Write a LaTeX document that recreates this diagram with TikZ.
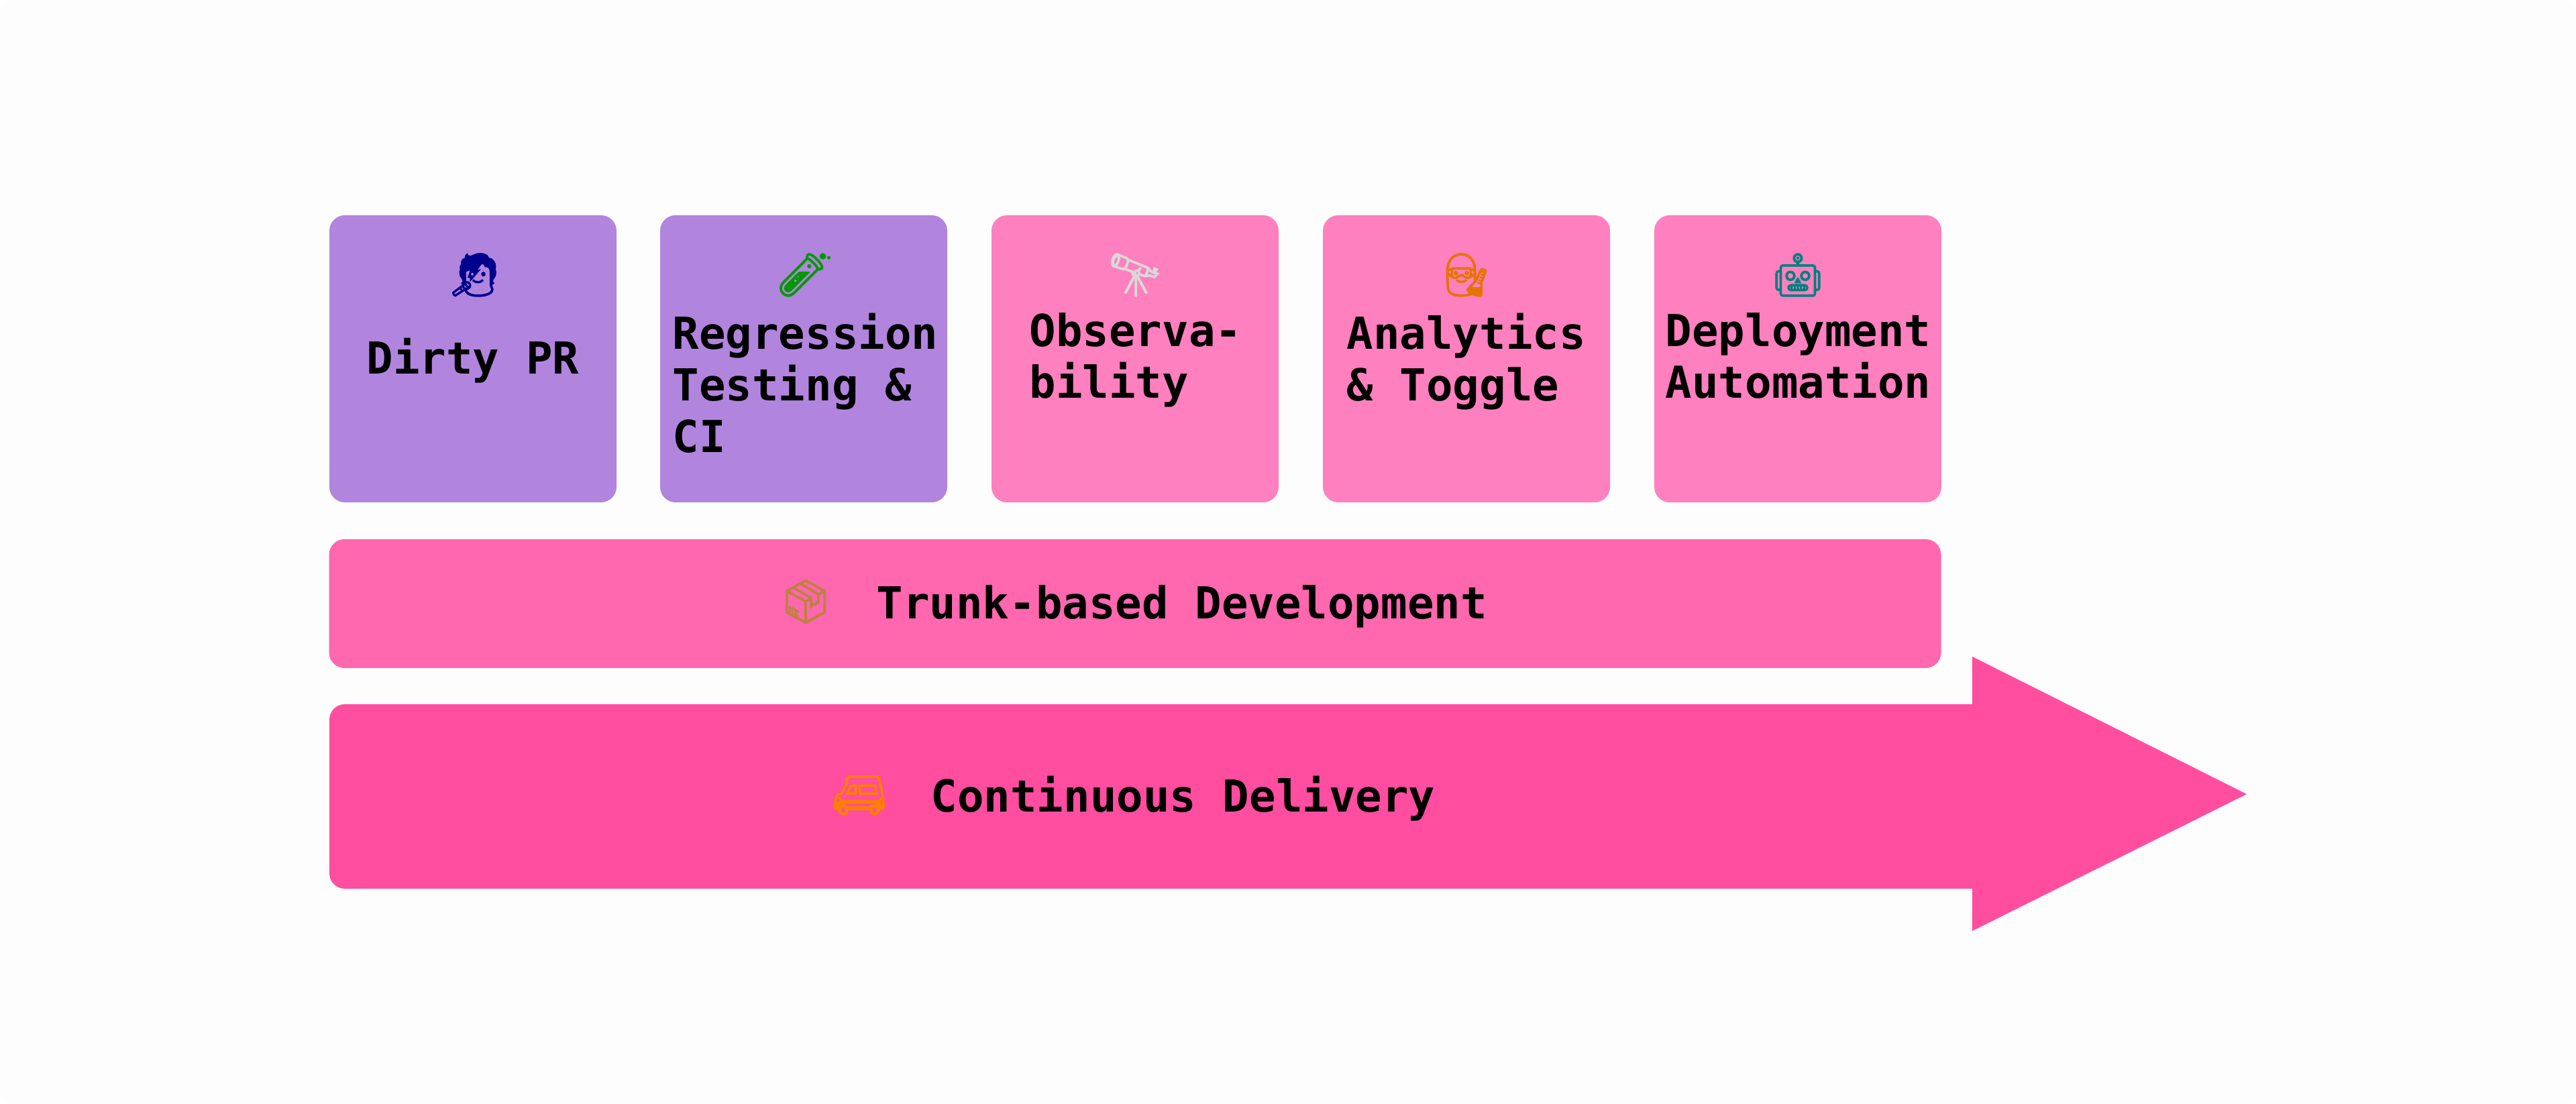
\documentclass[tikz,border=0pt]{standalone}
\usepackage{fontspec}
\setmonofont{DejaVu Sans Mono}
\newfontfamily\emojifont[FakeBold=2]{Noto Emoji}
\definecolor{pagecolor}{RGB}{253,253,253}
\definecolor{purplecard}{RGB}{177,133,222}
\definecolor{pinkcard}{RGB}{255,128,190}
\definecolor{trunkbar}{RGB}{255,103,174}
\definecolor{deliverybar}{RGB}{255,77,159}
\tikzset{
  card/.style={rectangle, rounded corners=0.23cm, minimum width=4.28cm, minimum height=4.28cm, inner sep=0pt},
  label/.style={font=\ttfamily\bfseries\fontsize{18.7}{22}\selectfont, text=black, inner sep=0pt, execute at begin node=\rule{0pt}{17pt}},
  icon/.style={font=\emojifont\fontsize{18}{18}\selectfont, inner sep=0pt}
}

\begin{document}
\begin{tikzpicture}
  \useasboundingbox (0,0) rectangle (38.4,16.46);
  \fill[pagecolor, rounded corners=0.2cm] (0,0) rectangle (38.4,16.46);

  % Draw the five cards
  \node[card, fill=purplecard] (dirty) at (7.05,11.11) {};
  \node[card, fill=purplecard] (regression) at (11.98,11.11) {};
  \node[card, fill=pinkcard] (observability) at (16.92,11.11) {};
  \node[card, fill=pinkcard] (analytics) at (21.86,11.11) {};
  \node[card, fill=pinkcard] (deployment) at (26.80,11.11) {};

  % Draw the trunk bar
  \node[card, fill=trunkbar, minimum width=24.03cm, minimum height=1.92cm] (trunk) at (16.92,7.46) {};

  % Draw the delivery arrow
  \fill[deliverybar, rounded corners=0.23cm] (29.40,5.96) -- (4.91,5.96) -- (4.91,3.21) [sharp corners] -- (29.40,3.21) -- (29.40,2.58) -- (33.49,4.62) -- (29.40,6.67) -- cycle;

  % Card icons
  \node[icon, text=blue!55!black] (dirtyicon) at (7.07,12.36) {👩‍🎤};
  \node[icon, text=green!60!black] (regressionicon) at (12.00,12.36) {🧪};
  \node[icon, text=white!85!black] (observabilityicon) at (16.92,12.36) {🔭};
  \node[icon, text=orange!90!black] (analyticsicon) at (21.86,12.36) {👩‍🔬};
  \node[icon, text=teal] (deploymenticon) at (26.80,12.36) {🤖};

  % Card labels
  \node[label, anchor=base west] (dirtylabel) at (5.46,10.88) {Dirty PR};
  \node[label, anchor=north west, align=left] (regressionlabel) at (10.02,11.80) {Regression\\Testing \&\\CI};
  \node[label, anchor=north west, align=left] (observabilitylabel) at (15.34,11.80) {Observa-\\bility};
  \node[label, anchor=north west, align=left] (analyticslabel) at (20.07,11.80) {Analytics\\\& Toggle};
  \node[label, anchor=north west, align=left] (deploymentlabel) at (24.82,11.80) {Deployment\\Automation};

  % Bar icons and labels
  \node[icon, text=brown] (trunkicon) at (12.01,7.49) {📦};
  \node[label, anchor=base west] (trunklabel) at (13.06,7.23) {Trunk-based Development};
  \node[icon, text=orange] (deliveryicon) at (12.81,4.60) {🚐};
  \node[label, anchor=base west] (deliverylabel) at (13.87,4.35) {Continuous Delivery};
\end{tikzpicture}
\end{document}
